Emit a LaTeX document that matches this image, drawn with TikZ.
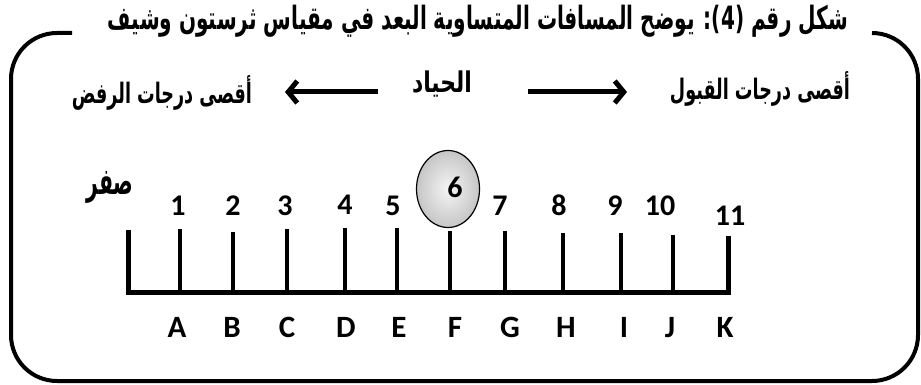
\documentclass[tikz,border=0pt]{standalone}
\usepackage{fontspec}
\usepackage{graphicx}
\usetikzlibrary{arrows.meta}
\setmainfont{Carlito}
\newfontfamily\arabicfont[Script=Arabic]{DejaVu Sans}
\TeXXeTstate=1
\newcommand\fitar[3]{\scalebox{1}[#2]{\resizebox{#1}{!}{\arabicfont\bfseries #3}}}
\tikzset{
  frame/.style={line width=4pt, line join=round},
  tickline/.style={line width=4.5pt},
  barline/.style={line width=5pt, line join=miter},
  bigarrow/.style={line width=5pt, -{Straight Barb[length=9pt,width=22pt]}},
  numlabel/.style={anchor=base, inner sep=0pt, font=\fontsize{30}{30}\selectfont\bfseries},
  letlabel/.style={anchor=base, inner sep=0pt, font=\fontsize{31}{31}\selectfont\bfseries},
  artext/.style={inner sep=0pt},
  bubble/.style={draw, line width=1.2pt, inner color=gray!8, outer color=gray!45},
}
\begin{document}
\begin{tikzpicture}[x=1pt,y=-1pt]
\useasboundingbox (0,0) rectangle (921,385);
% frame
\coordinate (fl) at (72,33);
\coordinate (fr) at (872,33);
\draw[frame, rounded corners=46pt] (fl) -- (11,33) -- (11,381) -- (918,381) -- (918,33) -- (fr);
% title
\node[artext] (title) at (478,21) {\fitar{740pt}{1.6}{\beginR شكل رقم \beginL(4)\endL: يوضح المسافات المتساوية البعد في مقياس ثرستون وشيف\endR}};
% second row
\node[artext] (rej) at (162,93) {\fitar{180pt}{1.6}{\beginR أقصى درجات الرفض\endR}};
\node[artext] (neu) at (442,84) {\fitar{60pt}{1.3}{\beginR الحياد\endR}};
\node[artext] (acc) at (760,89) {\fitar{180pt}{1.6}{\beginR أقصى درجات القبول\endR}};
\coordinate (la1) at (378,92);
\coordinate (la2) at (285,92);
\coordinate (ra1) at (528,92);
\coordinate (ra2) at (627,92);
\draw[bigarrow] (la1) -- (la2);
\draw[bigarrow] (ra1) -- (ra2);
% bubble around 6
\draw[bubble] (448,189) ellipse [x radius=31.5, y radius=38.5];
% scale
\foreach \n/\x/\t in {0/128/230,1/180/229,2/233/232,3/287/229,4/345/228,5/397/228,6/450/231,7/505/231,8/563/233,9/621/233,10/673/235,11/728/236}{
  \coordinate (t\n) at (\x,\t);
  \coordinate (b\n) at (\x,292);
}
\draw[barline] (t0) -- (b0) -- (b11) -- (t11);
\foreach \n in {1,...,10}{\draw[tickline] (t\n) -- (b\n);}
% numbers
\node[artext] (zero) at (110,187) {\fitar{47pt}{1.8}{\beginR صفر\endR}};
\foreach \n/\x/\y in {1/178/215,2/233/215,3/285/215,4/345/214,5/393/215,6/455/197,7/500/215,8/559/215,9/615/215,10/660/215,11/730/225}{
  \node[numlabel] (n\n) at (\x,\y) {\n};
}
% letters
\foreach \l/\x in {A/177,B/232,C/287,D/346,E/399,F/455,G/510,H/566,I/624,J/670,K/725}{
  \node[letlabel] (l\l) at (\x,337) {\l};
}
\end{tikzpicture}
\end{document}
